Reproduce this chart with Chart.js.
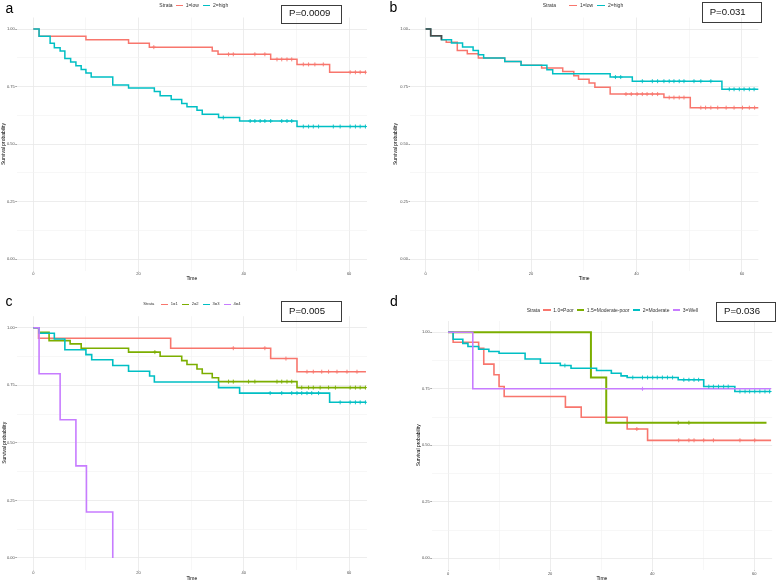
<!DOCTYPE html>
<html><head><meta charset="utf-8">
<script src="https://cdn.jsdelivr.net/npm/chart.js@4.4.1/dist/chart.umd.min.js"></script>
<style>
html,body{margin:0;padding:0;background:#fff;width:777px;height:582px;overflow:hidden;font-family:"Liberation Sans",Arial,sans-serif}
canvas{position:absolute}
.letter{position:absolute;color:#000;font-size:14px;line-height:1}
.pbox{position:absolute;border:1px solid #3c3c3c;box-sizing:border-box;color:#111;display:flex;align-items:center;padding-left:7px;padding-bottom:2px;font-size:9.6px;line-height:1}
.legend{position:absolute;display:flex;align-items:center;white-space:nowrap;color:#333;line-height:1}
.legend .sw{display:inline-block;height:1.6px}
</style></head><body>
<canvas id="ca" width="388" height="282" style="left:0;top:0"></canvas>
<canvas id="cb" width="389" height="282" style="left:388px;top:0"></canvas>
<canvas id="cc" width="388" height="300" style="left:0;top:282px"></canvas>
<canvas id="cd" width="389" height="300" style="left:388px;top:282px"></canvas>
<script>
// ---------- shared labels ----------
const panelLetters = ['a', 'b', 'c', 'd'];
const pValues = ['P=0.0009', 'P=0.031', 'P=0.005', 'P=0.036'];
const xTickValues = [0, 10, 20, 30, 40, 50, 60];
const yTickValues = [0, 0.125, 0.25, 0.375, 0.5, 0.625, 0.75, 0.875, 1];
const xTitle = 'Time';
const yTitle = 'Survival probability';
const legendTitle = 'Strata';

// ---------- panel a ----------
const aNames = ['1=low', '2=high'];
const aLowTimes = [1.1, 10.0, 18.1, 22.05, 34.0, 35.1, 45.1, 50.1, 56.3];
const aLowSurv = [0.968, 0.953, 0.938, 0.921, 0.904, 0.890, 0.868, 0.846, 0.812];
const aLowCensor = [22.9, 37.1, 38.0, 42.1, 44.0, 46.3, 47.2, 48.2, 49.1, 51.3, 52.3, 53.5, 55.1, 60.2, 61.2, 62.1, 63.1];
const aHighTimes = [1.1, 3.2, 4.0, 5.1, 6.0, 7.1, 8.1, 9.1, 10.0, 11.0, 15.1, 18.1, 23.0, 24.1, 26.2, 28.2, 29.2, 31.1, 32.1, 35.2, 39.2, 50.1];
const aHighSurv = [0.968, 0.938, 0.919, 0.904, 0.872, 0.856, 0.840, 0.824, 0.809, 0.791, 0.757, 0.743, 0.728, 0.710, 0.694, 0.676, 0.662, 0.647, 0.629, 0.615, 0.600, 0.576];
const aHighCensor = [36.1, 41.2, 42.1, 43.1, 44.0, 45.1, 47.2, 48.2, 49.1, 51.3, 52.3, 53.2, 54.2, 57.0, 58.3, 60.2, 61.2, 62.1, 63.1];
const aEnd = [63.2, 63.2];

// ---------- panel b ----------
const bNames = ['1=low', '2=high'];
const bLowTimes = [0.95, 3.0, 3.9, 6.0, 7.9, 10.0, 15.0, 18.1, 22.0, 26.0, 28.1, 29.0, 31.0, 32.1, 35.0, 45.2, 50.2];
const bLowSurv = [0.971, 0.953, 0.942, 0.907, 0.892, 0.874, 0.859, 0.842, 0.830, 0.815, 0.797, 0.782, 0.765, 0.747, 0.717, 0.702, 0.658];
const bLowCensor = [38.0, 39.0, 40.1, 41.1, 42.0, 43.0, 44.0, 46.2, 47.1, 48.1, 49.0, 52.2, 53.1, 54.1, 55.4, 57.0, 58.5, 60.1, 61.4, 62.4];
const bHighTimes = [0.95, 3.0, 4.9, 7.0, 9.0, 10.0, 11.0, 15.0, 18.1, 23.0, 24.1, 35.0, 39.2, 56.2];
const bHighSurv = [0.971, 0.953, 0.939, 0.922, 0.906, 0.888, 0.874, 0.859, 0.842, 0.823, 0.805, 0.791, 0.773, 0.738];
const bHighCensor = [36.0, 37.0, 41.1, 43.0, 44.0, 45.2, 46.2, 47.1, 48.1, 49.0, 50.9, 52.2, 54.1, 57.6, 58.5, 59.5, 60.4, 61.4, 62.3];
const bEnd = [63.3, 63.3];

// ---------- panel c ----------
const cNames = ['1=1', '2=2', '3=3', '4=4'];
const c1Times = [1.0, 26.1, 45.1, 50.1];
const c1Surv = [0.954, 0.911, 0.866, 0.809];
const c1Censor = [38.0, 44.0, 48.0, 52.0, 53.2, 54.8, 56.1, 57.7, 59.6, 61.5];
const c2Times = [1.1, 3.0, 7.0, 9.1, 18.1, 24.1, 28.2, 29.2, 31.1, 32.1, 34.0, 35.2, 50.1];
const c2Surv = [0.980, 0.944, 0.930, 0.911, 0.894, 0.876, 0.857, 0.840, 0.821, 0.801, 0.783, 0.766, 0.740];
const c2Censor = [23.1, 37.1, 38.0, 40.9, 42.1, 46.3, 47.2, 48.2, 49.1, 51.0, 52.3, 53.2, 54.5, 56.1, 57.4, 60.2, 61.2, 62.1, 63.1];
const c3Times = [1.1, 4.0, 6.0, 10.0, 11.1, 15.1, 18.1, 22.1, 23.0, 35.2, 39.2, 56.3];
const c3Surv = [0.976, 0.951, 0.904, 0.883, 0.861, 0.836, 0.811, 0.790, 0.764, 0.740, 0.716, 0.676];
const c3Censor = [45.0, 47.2, 49.1, 50.1, 51.0, 52.0, 52.9, 54.2, 58.3, 60.2, 61.2, 62.1, 63.1];
const c4Times = [1.1, 5.1, 8.1, 10.1, 15.1];
const c4Surv = [0.8, 0.6, 0.4, 0.2, 0.0];
const c4Censor = [];
const cEnd = [63.2, 63.2, 63.2, 15.1];

// ---------- panel d ----------
const dNames = ['1.0=Poor', '1.5=Moderate-poor', '2=Moderate', '3=Well'];
const dPoorTimes = [1.0, 6.0, 7.0, 9.0, 10.0, 11.0, 23.0, 26.1, 35.1, 39.1];
const dPoorSurv = [0.956, 0.929, 0.859, 0.812, 0.760, 0.716, 0.669, 0.624, 0.572, 0.522];
const dPoorCensor = [37.0, 45.2, 47.2, 48.2, 50.1, 52.0, 57.2, 60.1];
const dModPoorTimes = [28.0, 31.0];
const dModPoorSurv = [0.8, 0.6];
const dModPoorCensor = [45.1, 47.2];
const dModTimes = [1.0, 2.9, 3.9, 6.0, 8.0, 10.0, 15.1, 18.1, 22.0, 24.1, 29.1, 32.0, 33.9, 35.1, 45.1, 50.1, 56.2];
const dModSurv = [0.969, 0.951, 0.937, 0.925, 0.915, 0.907, 0.882, 0.863, 0.853, 0.841, 0.831, 0.819, 0.807, 0.800, 0.790, 0.760, 0.738];
const dModCensor = [22.9, 36.2, 38.1, 39.1, 40.1, 41.0, 42.0, 43.0, 44.0, 46.2, 47.2, 48.2, 49.1, 51.1, 52.0, 53.0, 54.0, 54.9, 57.2, 58.2, 59.1, 60.1, 61.1, 62.1, 63.0];
const dWellTimes = [4.85];
const dWellSurv = [0.75];
const dWellCensor = [38.1];
const dEnd = [63.3, 62.4, 63.3, 63.3];

// ---------- colours ----------
const col2 = ['#F8766D', '#00BFC4'];
const col4 = ['#F8766D', '#7CAE00', '#00BFC4', '#C77CFF'];
const overlapColor = '#4a4a4a';

// ---------- helpers ----------
const FAM = '"Liberation Sans", Arial, sans-serif';
function curve(name, color, times, surv, censor, end) { return {name, color, times, surv, censor, end}; }
function kmPoints(c) {
  const pts = [{x: 0, y: 1}];
  c.times.forEach((t, i) => pts.push({x: t, y: c.surv[i]}));
  const last = c.surv.length ? c.surv[c.surv.length - 1] : 1;
  if (c.end > pts[pts.length - 1].x) pts.push({x: c.end, y: last});
  return pts;
}
function survAt(c, t) { let s = 1; c.times.forEach((ti, i) => { if (ti <= t) s = c.surv[i]; }); return s; }

const panels = [
  {id: 'ca', W: 388, H: 282, left: 16.7, right: 367, top: 17.5, bottom: 270.5, xMin: -3.15, xMax: 63.4, yPad: 0.3, lw: 1.5,
   curves: [curve(aNames[0], col2[0], aLowTimes, aLowSurv, aLowCensor, aEnd[0]), curve(aNames[1], col2[1], aHighTimes, aHighSurv, aHighCensor, aEnd[1])],
   letter: {x: 5.5, y: 0.5}, box: {x: 281, y: 5, w: 61, h: 18.5}, legend: {x: 159.3, y: 5.7, fs: 5, g0: 3, g1: 3, g2: 4.2, sw: 7}},
  {id: 'cb', W: 389, H: 282, left: 22, right: 370.3, top: 17.5, bottom: 270.5, xMin: -2.97, xMax: 63.1, yPad: 4.8, lw: 1.5, overlap: true,
   curves: [curve(bNames[0], col2[0], bLowTimes, bLowSurv, bLowCensor, bEnd[0]), curve(bNames[1], col2[1], bHighTimes, bHighSurv, bHighCensor, bEnd[1])],
   letter: {x: 389.5, y: -0.2}, box: {x: 701.7, y: 1.7, w: 60.8, h: 21.6}, legend: {x: 542.7, y: 5.7, fs: 5, g0: 12.5, g1: 3, g2: 3.5, sw: 8.4}},
  {id: 'cc', W: 388, H: 300, left: 16.7, right: 367, top: 34.2, bottom: 287.5, xMin: -3.15, xMax: 63.4, yPad: 1.2, lw: 1.6,
   curves: [curve(cNames[0], col4[0], c1Times, c1Surv, c1Censor, cEnd[0]), curve(cNames[1], col4[1], c2Times, c2Surv, c2Censor, cEnd[1]),
            curve(cNames[2], col4[2], c3Times, c3Surv, c3Censor, cEnd[2]), curve(cNames[3], col4[3], c4Times, c4Surv, c4Censor, cEnd[3])],
   letter: {x: 5.5, y: 294.2}, box: {x: 281, y: 300.7, w: 61, h: 21.6}, legend: {x: 143.3, y: 304.3, fs: 4.1, g0: 6.5, g1: 2.4, g2: 4, sw: 7.6}},
  {id: 'cd', W: 389, H: 300, left: 43.7, right: 388, top: 39, bottom: 287.6, xMin: -3.2, xMax: 63.5, yPad: 28, lw: 1.6,
   curves: [curve(dNames[0], col4[0], dPoorTimes, dPoorSurv, dPoorCensor, dEnd[0]), curve(dNames[1], col4[1], dModPoorTimes, dModPoorSurv, dModPoorCensor, dEnd[1]),
            curve(dNames[2], col4[2], dModTimes, dModSurv, dModCensor, dEnd[2]), curve(dNames[3], col4[3], dWellTimes, dWellSurv, dWellCensor, dEnd[3])],
   letter: {x: 390, y: 293.8}, box: {x: 716, y: 301.7, w: 59.5, h: 20.5}, legend: {x: 526.7, y: 310, fs: 5, g0: 3.3, g1: 2.6, g2: 3.3, sw: 7.3}}
];

function buildDatasets(p) {
  const ds = [];
  p.curves.forEach((c, i) => {
    ds.push({type: 'line', label: c.name, data: kmPoints(c), borderColor: c.color, borderWidth: (p.id === 'cd' && i === 1) ? 2 : p.lw,
             stepped: true, pointRadius: 0, fill: false, order: 10 - i, borderCapStyle: 'butt', borderJoinStyle: 'miter'});
  });
  if (p.overlap) {
    const [c0, c1] = p.curves;
    let k = 0;
    while (k < c0.times.length && k < c1.times.length && c0.times[k] === c1.times[k] && c0.surv[k] === c1.surv[k]) k++;
    if (k > 0) {
      const pts = [{x: 0, y: 1}];
      for (let i = 0; i < k; i++) pts.push({x: c0.times[i], y: c0.surv[i]});
      ds.push({type: 'line', label: 'overlap', data: pts, borderColor: overlapColor, borderWidth: p.lw, stepped: true, pointRadius: 0, fill: false, order: 5});
    }
  }
  p.curves.forEach((c, i) => {
    if (!c.censor.length) return;
    ds.push({type: 'scatter', label: c.name + ' censor', data: c.censor.map(t => ({x: t, y: survAt(c, t)})),
             pointStyle: 'cross', pointRadius: 2, borderColor: c.color, backgroundColor: c.color, pointBorderWidth: 0.9,
             showLine: false, order: -i});
  });
  return ds;
}

function makeChart(p) {
  const ctx = document.getElementById(p.id);
  new Chart(ctx, {
    data: {datasets: buildDatasets(p)},
    options: {
      responsive: false, animation: false, events: [],
      layout: {padding: {left: 0, top: p.top, right: p.W - p.right, bottom: 0}},
      plugins: {legend: {display: false}, tooltip: {enabled: false}, title: {display: false}},
      scales: {
        x: {type: 'linear', min: p.xMin, max: p.xMax,
            afterBuildTicks: s => { s.ticks = xTickValues.map(v => ({value: v})); },
            afterFit: s => { s.height = p.H - p.bottom; },
            ticks: {autoSkip: false, maxRotation: 0, padding: 0.4, color: '#4d4d4d', font: {size: 4, family: FAM},
                    callback: v => (v % 20 === 0 ? String(v) : '')},
            grid: {color: c => (c.tick && c.tick.value % 20 === 0 ? '#e8e8e8' : '#f2f2f2'),
                   lineWidth: c => (c.tick && c.tick.value % 20 === 0 ? 0.8 : 0.6),
                   tickLength: 1, tickColor: c => (c.tick && c.tick.value % 20 === 0 ? '#555' : 'rgba(0,0,0,0)'), tickWidth: 0.5},
            border: {display: false},
            title: {display: true, text: xTitle, color: '#000', font: {size: 5, family: FAM}, padding: {top: 0, bottom: 0}}},
        y: {type: 'linear', min: -0.05, max: 1.05,
            afterBuildTicks: s => { s.ticks = yTickValues.map(v => ({value: v})); },
            afterFit: s => { s.width = p.left; },
            ticks: {autoSkip: false, padding: 0.5, color: '#4d4d4d', font: {size: 4, family: FAM},
                    callback: v => (Math.abs(v * 4 - Math.round(v * 4)) < 1e-9 ? v.toFixed(2) : '')},
            grid: {color: c => (c.tick && Math.abs(c.tick.value * 4 - Math.round(c.tick.value * 4)) < 1e-9 ? '#e8e8e8' : '#f2f2f2'),
                   lineWidth: c => (c.tick && Math.abs(c.tick.value * 4 - Math.round(c.tick.value * 4)) < 1e-9 ? 0.8 : 0.6),
                   tickLength: 1.5, tickColor: c => (c.tick && Math.abs(c.tick.value * 4 - Math.round(c.tick.value * 4)) < 1e-9 ? '#555' : 'rgba(0,0,0,0)'), tickWidth: 0.5},
            border: {display: false},
            title: {display: true, text: yTitle, color: '#000', font: {size: 5, family: FAM}, padding: {top: p.yPad, bottom: 0}}}
      }
    }
  });
}

function addOverlays(p, idx) {
  const L = document.createElement('div');
  L.className = 'letter'; L.textContent = panelLetters[idx];
  L.style.left = p.letter.x + 'px'; L.style.top = p.letter.y + 'px';
  document.body.appendChild(L);
  const B = document.createElement('div');
  B.className = 'pbox'; B.textContent = pValues[idx];
  Object.assign(B.style, {left: p.box.x + 'px', top: p.box.y + 'px', width: p.box.w + 'px', height: p.box.h + 'px'});
  document.body.appendChild(B);
  const g = p.legend;
  const lg = document.createElement('div');
  lg.className = 'legend';
  Object.assign(lg.style, {left: g.x + 'px', top: (g.y - g.fs / 2) + 'px', height: g.fs + 'px', fontSize: g.fs + 'px'});
  const t = document.createElement('span'); t.textContent = legendTitle; t.style.marginRight = g.g0 + 'px'; lg.appendChild(t);
  p.curves.forEach((c, i) => {
    const sw = document.createElement('span'); sw.className = 'sw';
    Object.assign(sw.style, {width: g.sw + 'px', background: c.color, marginRight: g.g1 + 'px'});
    lg.appendChild(sw);
    const s = document.createElement('span'); s.textContent = c.name;
    if (i < p.curves.length - 1) s.style.marginRight = g.g2 + 'px';
    lg.appendChild(s);
  });
  document.body.appendChild(lg);
}

panels.forEach((p, i) => { makeChart(p); addOverlays(p, i); });
</script>
</body></html>
